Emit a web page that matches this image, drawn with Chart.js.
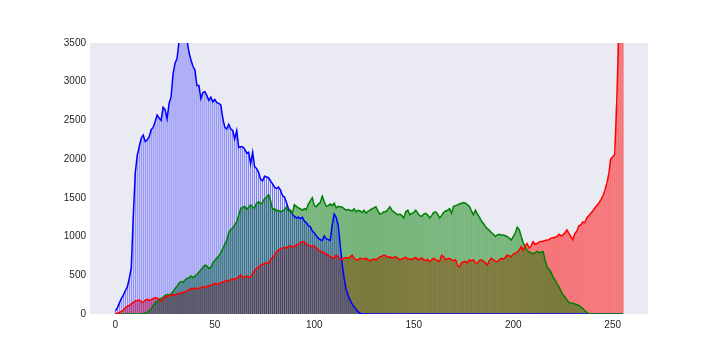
<!DOCTYPE html>
<html>
<head>
<meta charset="utf-8">
<script src="https://cdn.jsdelivr.net/npm/chart.js"></script>
<style>
  body { margin: 0; background: #fff; }
  #wrap { width: 720px; height: 360px; }
</style>
</head>
<body>
<div id="wrap"><canvas id="hist" width="720" height="360"></canvas></div>
<script>
'use strict';

// pixel value bins 0..255
const bins = Array.from({ length: 256 }, (_, i) => i);

// tick labels
const xTicks = [0, 50, 100, 150, 200, 250];
const yTicks = [0, 500, 1000, 1500, 2000, 2500, 3000, 3500];

// blue channel
const blue = [
  40, 80, 140, 200, 245, 300, 350, 460, 600, 1260,
  1820, 2050, 2160, 2270, 2310, 2225, 2250, 2290, 2380, 2410,
  2485, 2570, 2530, 2500, 2670, 2640, 2520, 2720, 2800, 3100,
  3240, 3300, 3520, 3600, 3650, 3560, 3540, 3380, 3280, 3200,
  3150, 2950, 2950, 2780, 2860, 2870, 2820, 2760, 2800, 2740,
  2770, 2730, 2720, 2700, 2530, 2410, 2390, 2450, 2390, 2370,
  2260, 2370, 2150, 2160, 2160, 2130, 2080, 2090, 1940, 2090,
  1900, 1880, 1830, 1740, 1720, 1780, 1770, 1760, 1720, 1680,
  1640, 1620, 1640, 1600, 1530, 1510, 1440, 1360, 1330, 1290,
  1260, 1240, 1250, 1230, 1250, 1200, 1180, 1140, 1130, 1070,
  1050, 1010, 980, 960, 950, 1010, 970, 960, 950, 1150,
  1290, 1250, 1150, 900, 650, 460, 320, 240, 180, 130,
  95, 60, 30, 10, 0, 0, 0, 0, 0, 0,
  0, 0, 0, 0, 0, 0, 0, 0, 0, 0,
  0, 0, 0, 0, 0, 0, 0, 0, 0, 0,
  0, 0, 0, 0, 0, 0, 0, 0, 0, 0,
  0, 0, 0, 0, 0, 0, 0, 0, 0, 0,
  0, 0, 0, 0, 0, 0, 0, 0, 0, 0,
  0, 0, 0, 0, 0, 0, 0, 0, 0, 0,
  0, 0, 0, 0, 0, 0, 0, 0, 0, 0,
  0, 0, 0, 0, 0, 0, 0, 0, 0, 0,
  0, 0, 0, 0, 0, 0, 0, 0, 0, 0,
  0, 0, 0, 0, 0, 0, 0, 0, 0, 0,
  0, 0, 0, 0, 0, 0, 0, 0, 0, 0,
  0, 0, 0, 0, 0, 0, 0, 0, 0, 0,
  0, 0, 0, 0, 0, 0
];

// green channel
const green = [
  0, 0, 0, 0, 0, 0, 0, 0, 0, 0,
  0, 0, 0, 0, 5, 15, 25, 40, 70, 110,
  140, 160, 185, 200, 215, 240, 250, 245, 260, 290,
  330, 360, 400, 420, 410, 440, 460, 470, 490, 470,
  490, 510, 540, 570, 600, 630, 620, 590, 600, 660,
  690, 720, 750, 790, 840, 900, 950, 1050, 1090, 1110,
  1150, 1190, 1270, 1360, 1380, 1390, 1350, 1380, 1410, 1380,
  1370, 1430, 1450, 1420, 1440, 1490, 1510, 1540, 1460, 1350,
  1360, 1330, 1340, 1320, 1330, 1350, 1380, 1330, 1340, 1300,
  1410, 1390, 1370, 1360, 1340, 1360, 1350, 1420, 1460, 1500,
  1400, 1385, 1420, 1440, 1520, 1450, 1390, 1400, 1420, 1400,
  1430, 1370, 1390, 1385, 1380, 1360, 1340, 1350, 1340, 1330,
  1360, 1320, 1340, 1330, 1310, 1340, 1300, 1330, 1340, 1360,
  1370, 1385, 1330, 1290, 1300, 1320, 1320, 1350, 1385, 1340,
  1320, 1300, 1280, 1290, 1270, 1240, 1320, 1340, 1280, 1300,
  1310, 1340, 1300, 1270, 1260, 1290, 1300, 1280, 1240, 1270,
  1310, 1320, 1290, 1240, 1270, 1310, 1330, 1340, 1360, 1300,
  1390, 1400, 1410, 1420, 1430, 1440, 1430, 1410, 1390, 1330,
  1280, 1340, 1290, 1250, 1200, 1170, 1130, 1100, 1080, 1050,
  1030, 1000, 1020, 1030, 1020, 1020, 1010, 1000, 980, 955,
  1000, 1040, 1120, 1090, 1000, 920, 870, 820, 800, 790,
  780, 790, 810, 790, 800, 805, 700, 610, 580, 540,
  480, 440, 390, 350, 300, 250, 220, 180, 150, 140,
  140, 130, 120, 110, 90, 70, 40, 20, 5, 0,
  0, 0, 0, 0, 0, 0, 0, 0, 0, 0,
  0, 0, 0, 0, 0, 0
];

// red channel
const red = [
  0, 10, 20, 35, 50, 80, 100, 110, 130, 150,
  170, 175, 180, 160, 150, 180, 190, 175, 185, 200,
  210, 205, 190, 165, 190, 220, 230, 235, 240, 250,
  245, 260, 265, 270, 280, 285, 295, 310, 330, 320,
  335, 330, 330, 340, 350, 345, 355, 365, 375, 380,
  395, 385, 390, 400, 415, 420, 435, 430, 440, 455,
  450, 460, 480, 505, 470, 480, 490, 475, 480, 520,
  560, 590, 600, 630, 640, 650, 660, 650, 700, 730,
  760, 800, 825, 840, 850, 860, 850, 870, 880, 870,
  870, 890, 900, 920, 935, 930, 900, 890, 880, 870,
  880, 850, 830, 810, 800, 790, 775, 760, 740, 730,
  720, 760, 740, 700, 710, 720, 730, 720, 735, 760,
  720, 700, 700, 720, 715, 705, 720, 700, 690, 700,
  710, 700, 720, 740, 745, 760, 750, 730, 740, 720,
  735, 740, 720, 700, 710, 720, 735, 705, 715, 700,
  720, 730, 700, 710, 725, 700, 690, 705, 675, 700,
  720, 700, 690, 675, 760, 740, 700, 710, 720, 700,
  690, 700, 630, 610, 660, 675, 680, 660, 700, 690,
  700, 660, 655, 690, 700, 680, 660, 630, 690, 720,
  700, 680, 675, 700, 720, 710, 730, 760, 750, 740,
  770, 785, 800, 825, 870, 820, 880, 910, 850, 880,
  935, 900, 910, 930, 935, 940, 950, 955, 960, 980,
  985, 990, 1000, 1030, 1010, 1020, 1050, 1085, 1040, 1000,
  960, 1040, 1070, 1140, 1150, 1190, 1180, 1240, 1270, 1300,
  1330, 1370, 1400, 1430, 1470, 1520, 1590, 1680, 1800, 2000,
  2030, 2060, 2700, 3600, 4800, 6500
];

function puntos(valores) {
  return bins.map((b, i) => ({ x: b, y: valores[i] }));
}

// plot area background, seaborn "dark" style
const fondo = {
  id: 'fondo',
  beforeDraw(chart) {
    const { ctx, chartArea: a } = chart;
    ctx.save();
    ctx.fillStyle = '#eaeaf2';
    ctx.fillRect(a.left, a.top, a.right - a.left, a.bottom - a.top);
    ctx.restore();
  }
};

// higher order is drawn first: red bars at the bottom, blue bars on top, lines over all
function barras(valores, color, ancho, orden) {
  return {
    type: 'bar',
    data: puntos(valores),
    backgroundColor: color,
    borderWidth: 0,
    inflateAmount: 0,
    barPercentage: ancho,
    categoryPercentage: 1,
    grouped: false,
    order: orden
  };
}

function linea(valores, color, orden) {
  return {
    type: 'line',
    data: puntos(valores),
    borderColor: color,
    borderWidth: 1.5,
    pointRadius: 0,
    fill: false,
    tension: 0,
    order: orden
  };
}

const fuente = { family: 'Liberation Sans, Arial, sans-serif', size: 10 };

new Chart('hist', {
  type: 'bar',
  data: {
    datasets: [
      barras(red, 'rgba(255,0,0,0.5)', 1, 9),
      barras(green, 'rgba(0,128,0,0.5)', 1, 8),
      barras(blue, 'rgba(0,0,255,0.5)', 0.5, 7),
      linea(blue, '#0000ff', 3),
      linea(green, '#008000', 2),
      linea(red, '#ff0000', 1)
    ]
  },
  options: {
    responsive: false,
    animation: false,
    layout: { padding: { left: 0, right: 72, top: 43, bottom: 0 } },
    plugins: {
      legend: { display: false },
      tooltip: { enabled: false }
    },
    scales: {
      x: {
        type: 'linear',
        min: -12.75,
        max: 267.75,
        offset: false,
        grid: { display: false, drawTicks: false },
        border: { display: false },
        afterBuildTicks: s => { s.ticks = xTicks.map(v => ({ value: v })); },
        afterFit: s => { s.height = 46; },
        ticks: {
          padding: 5,
          color: '#262626',
          font: fuente,
          callback: v => String(v)
        }
      },
      y: {
        min: 0,
        max: 3500,
        grid: { display: false, drawTicks: false },
        border: { display: false },
        afterBuildTicks: s => { s.ticks = yTicks.map(v => ({ value: v })); },
        afterFit: s => { s.width = 90; },
        ticks: {
          padding: 4,
          color: '#262626',
          font: fuente,
          callback: v => String(v)
        }
      }
    }
  },
  plugins: [fondo]
});
</script>
</body>
</html>
